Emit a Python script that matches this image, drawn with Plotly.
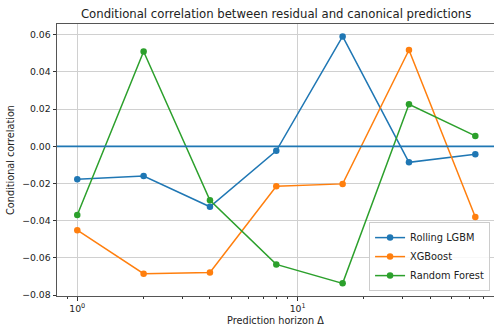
import plotly.graph_objects as go

horizons = [1, 2, 4, 8, 16, 32, 64]
rolling_lgbm = [-0.0177, -0.0160, -0.0325, -0.0024, 0.0591, -0.0086, -0.0043]
xgboost = [-0.0451, -0.0685, -0.0678, -0.0215, -0.0202, 0.0518, -0.0380]
random_forest = [-0.0369, 0.0510, -0.0290, -0.0635, -0.0737, 0.0226, 0.0056]
series_names = ["Rolling LGBM", "XGBoost", "Random Forest"]
colors = ["#1f77b4", "#ff7f0e", "#2ca02c"]
y_ticks = [-0.08, -0.06, -0.04, -0.02, 0.00, 0.02, 0.04, 0.06]
x_major = [1, 10]
x_major_text = ["10<sup>0</sup>", "10<sup>1</sup>"]
x_minor = [0.9, 2, 3, 4, 5, 6, 7, 8, 9, 20, 30, 40, 50, 60, 70]
zero_level = 0.0

FONT = "DejaVu Sans, sans-serif"

fig = go.Figure()
for name, vals, c in zip(series_names, [rolling_lgbm, xgboost, random_forest], colors):
    fig.add_trace(go.Scatter(
        x=horizons, y=vals, name=name, mode="lines+markers",
        line=dict(color=c, width=1.5),
        marker=dict(color=c, size=6.5),
    ))

fig.add_shape(type="line", xref="paper", x0=0, x1=1, yref="y", y0=zero_level, y1=zero_level,
              line=dict(color=colors[0], width=1.6), layer="above")

def fmt(v):
    s = f"{abs(v):.2f}"
    return ("\u2212" + s) if v < 0 else s

fig.update_layout(
    width=494, height=326,
    margin=dict(l=57, r=0, t=24, b=30),
    paper_bgcolor="white", plot_bgcolor="white",
    font=dict(family=FONT, size=9.3, color="#222"),
    title=dict(text="Conditional correlation between residual and canonical predictions",
               x=0.559, xanchor="center", y=0.957, yanchor="middle",
               font=dict(family=FONT, size=11.7, color="#222")),
    showlegend=True,
    legend=dict(x=0.991, xanchor="right", y=0.018, yanchor="bottom",
                bgcolor="rgba(255,255,255,0.85)", bordercolor="#cccccc", borderwidth=1,
                font=dict(family=FONT, size=9.8, color="#222"),
                itemwidth=30, tracegroupgap=0),
    xaxis=dict(
        type="log", range=[-0.092, 1.891],
        tickmode="array", tickvals=x_major, ticktext=x_major_text,
        ticks="outside", ticklen=3.5, tickwidth=0.8, tickcolor="#333",
        showgrid=True, gridcolor="#d0d0d0", gridwidth=0.8,
        showline=True, mirror=True, linecolor="#555", linewidth=1,
        zeroline=False,
        minor=dict(tickmode="array", tickvals=x_minor, ticks="outside", ticklen=2,
                   tickwidth=0.6, tickcolor="#333", showgrid=False),
        title=dict(text="Prediction horizon Δ", standoff=4, font=dict(family=FONT, size=9.7)),
        tickfont=dict(family=FONT, size=9.3),
    ),
    yaxis=dict(
        range=[-0.0805, 0.0658],
        tickmode="array", tickvals=y_ticks, ticktext=[fmt(v) for v in y_ticks],
        ticks="outside", ticklen=3.5, tickwidth=0.8, tickcolor="#333",
        showgrid=True, gridcolor="#d0d0d0", gridwidth=0.8,
        showline=True, mirror=True, linecolor="#555", linewidth=1,
        zeroline=False,
        title=dict(text="Conditional correlation", standoff=5, font=dict(family=FONT, size=9.7)),
        tickfont=dict(family=FONT, size=9.3),
    ),
)

fig.write_html("out.html", config={"displayModeBar": False},
               post_script="document.body.style.margin='0';document.body.style.overflow='hidden';")
